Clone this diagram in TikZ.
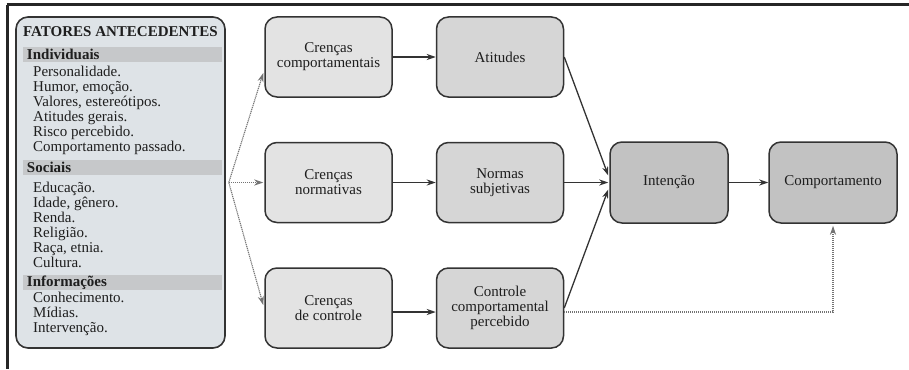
\documentclass[tikz,border=0pt]{standalone}
\usepackage{fontspec}
\setmainfont{Liberation Serif}
\usetikzlibrary{arrows.meta}
\definecolor{leftfill}{HTML}{DEE3E7}
\definecolor{bandfill}{HTML}{C6C8CA}
\definecolor{fillA}{HTML}{E3E3E3}
\definecolor{fillB}{HTML}{D6D6D6}
\definecolor{fillC}{HTML}{C2C2C2}
\definecolor{edgec}{HTML}{333333}
\definecolor{txtc}{HTML}{1E1E1E}
\tikzset{
  x=1pt, y=-1pt,
  txt/.style={font=\fontsize{15}{15}\selectfont, text=txtc},
  boxbase/.style={draw=edgec, line width=1.5pt, rounded corners=12pt,
    minimum width=127pt, minimum height=80pt, align=center, inner sep=0pt,
    font=\fontsize{15}{15}\selectfont, text=txtc},
  boxA/.style={boxbase, fill=fillA},
  boxB/.style={boxbase, fill=fillB},
  boxC/.style={boxbase, fill=fillC, minimum width=118pt, minimum height=81pt},
  band/.style={fill=bandfill, minimum width=199pt, minimum height=15pt,
    text width=191pt, inner xsep=4pt, inner ysep=0pt, align=left,
    font=\fontsize{15}{15}\selectfont\bfseries, text=txtc},
  item/.style={anchor=base west, inner sep=0pt, txt},
  arr/.style={-{Stealth[length=9pt,width=6pt]}, line width=1.3pt, draw=edgec},
  darr/.style={-{Stealth[length=9pt,width=6pt]}, line width=1.1pt, draw=black!55,
    dash pattern=on 1.2pt off 0.8pt},
}
\begin{document}
\begin{tikzpicture}
\useasboundingbox (0,0) rectangle (909,369);
% frame
\draw[line width=3pt, black!85] (6.5,5) -- (909,5);
\draw[line width=2.5pt, black!85] (7.5,5) -- (7.5,369);
% left box
\node[draw=edgec, line width=1.6pt, rounded corners=12pt, fill=leftfill,
  minimum width=209pt, minimum height=331pt, inner sep=0pt] (fat) at (120.5,182.5) {};
\node[anchor=base, inner sep=0pt, font=\fontsize{15}{15}\selectfont\bfseries, text=txtc]
  (tit) at (120.5,36.7) {FATORES ANTECEDENTES};
\node[band] (bi) at (122.5,54.5) {Individuais};
\node[band] (bs) at (122.5,167.5) {Sociais};
\node[band] (bf) at (122.5,282.5) {Informações};
\foreach \t [count=\i] in {Personalidade., {Humor, emoção.}, {Valores, estereótipos.}, Atitudes gerais., Risco percebido., Comportamento passado.}
  \node[item] (ia\i) at (33,61.5+15*\i) {\t};
\foreach \t [count=\i] in {Educação., {Idade, gênero.}, Renda., Religião., {Raça, etnia.}, Cultura.}
  \node[item] (ib\i) at (33,177.5+15*\i) {\t};
\foreach \t [count=\i] in {Conhecimento., Mídias., Intervenção.}
  \node[item] (ic\i) at (33,287+15*\i) {\t};
% boxes
\node[boxA] (cc)  at (328.5,57)  {Crenças\\comportamentais};
\node[boxA] (cn)  at (328.5,182.5) {Crenças\\normativas};
\node[boxA] (cdc) at (328.5,308) {Crenças\\de controle};
\node[boxB] (att) at (500,57)  {Atitudes};
\node[boxB] (ns)  at (500,182.5) {Normas\\subjetivas};
\node[boxB] (ccp) at (500,308) {Controle\\comportamental\\percebido};
\node[boxC] (int) at (669,182.5) {Intenção};
\node[boxC, minimum width=128pt] (comp) at (833,182.5) {Comportamento};
% dotted arrows from left box
\coordinate (src) at ([xshift=3pt]fat.east);
\draw[darr] (src) -- ([xshift=-1pt,yshift=-16pt]cc.west);
\draw[darr] (src) -- ([xshift=-1pt]cn.west);
\draw[darr] (src) -- ([xshift=-1pt,yshift=3pt]cdc.west);
% solid arrows
\draw[arr] (cc.east) -- (att.west);
\draw[arr] (cn.east) -- (ns.west);
\draw[arr] ([yshift=-4pt]cdc.east) -- ([yshift=-4pt]ccp.west);
\draw[arr] (att.east) -- ([xshift=-1pt,yshift=7pt]int.west);
\draw[arr] (ns.east) -- ([xshift=-1pt]int.west);
\draw[arr] (ccp.east) -- ([xshift=-1pt,yshift=-7pt]int.west);
\draw[arr] (int.east) -- (comp.west);
\draw[darr] ([yshift=-4pt]ccp.east) -| ([yshift=-2pt]comp.south);
\end{tikzpicture}
\end{document}
